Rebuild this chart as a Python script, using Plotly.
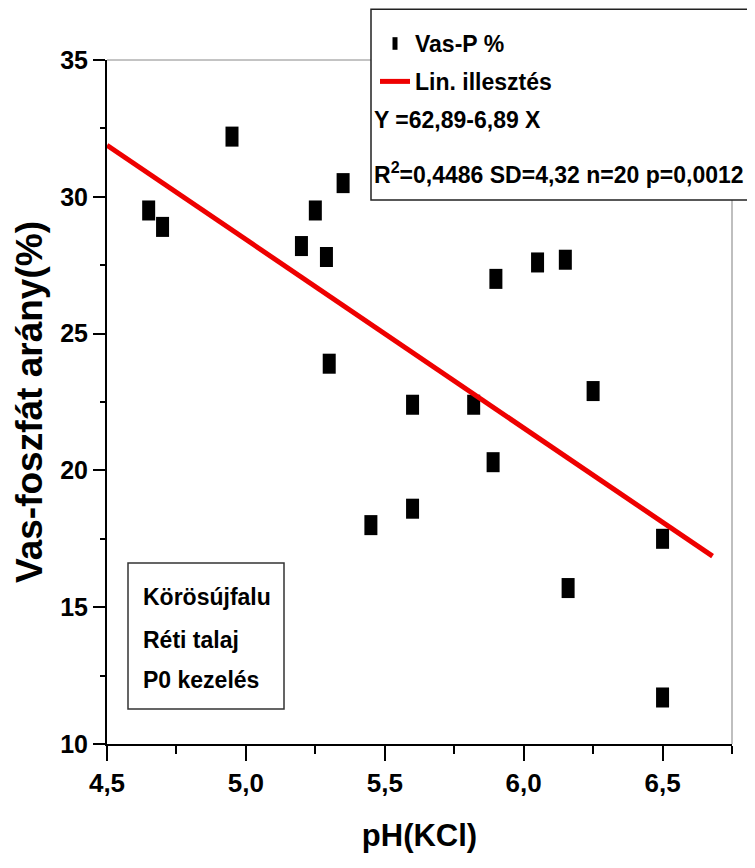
import plotly.graph_objects as go

# ---- data ----
ph_kcl = [4.65, 4.70, 4.95, 5.20, 5.25, 5.29, 5.30, 5.35, 5.45, 5.60,
          5.60, 5.82, 5.89, 5.90, 6.05, 6.15, 6.16, 6.25, 6.50, 6.50]
vas_p = [29.5, 28.9, 32.2, 28.2, 29.5, 27.8, 23.9, 30.5, 18.0, 22.4,
         18.6, 22.4, 20.3, 27.0, 27.6, 27.7, 15.7, 22.9, 17.5, 11.7]
fit_intercept = 62.89
fit_slope = -6.89
fit_x = [4.5, 6.68]
fit_y = [fit_intercept + fit_slope * x for x in fit_x]

x_ticks = [4.5, 5.0, 5.5, 6.0, 6.5]
y_ticks = [10, 15, 20, 25, 30, 35]

FONT = "Liberation Sans, Arial, sans-serif"

fig = go.Figure()

# data points (rectangular black markers)
fig.add_trace(go.Scatter(
    x=ph_kcl, y=vas_p, mode="markers", showlegend=False, name="Vas-P %",
    marker=dict(symbol="line-ns", size=14.3, color="black",
                line=dict(color="black", width=13)),
))
# fit line
fig.add_trace(go.Scatter(
    x=fit_x, y=fit_y, mode="lines", name="Lin. illesztés", showlegend=False,
    line=dict(color="#ee0000", width=5),
))
# legend entries
fig.add_trace(go.Scatter(
    x=[None], y=[None], mode="markers", name="Vas-P %", legendgroup="a",
    marker=dict(symbol="line-ns", size=9, color="black",
                line=dict(color="black", width=6)),
))
fig.add_trace(go.Scatter(
    x=[None], y=[None], mode="lines", name="Lin. illesztés", legendgroup="b",
    line=dict(color="#ee0000", width=5),
))

axis_common = dict(
    showline=True, linecolor="black", linewidth=2,
    ticks="outside", tickcolor="black", tickwidth=2,
    showgrid=False, zeroline=False, automargin=False,
)

fig.update_xaxes(
    range=[4.5, 6.75], tickvals=x_ticks, tickformat=".1f", ticklen=15,
    tickfont=dict(family=FONT, size=26, color="black", weight="bold"),
    minor=dict(dtick=0.25, ticklen=8, tickwidth=2, tickcolor="black", ticks="outside"),
    title=dict(text="pH(KCl)", font=dict(family=FONT, size=31, color="black", weight="bold"),
               standoff=27),
    **axis_common,
)
fig.update_yaxes(
    range=[10, 35], tickvals=y_ticks, ticklen=12,
    tickfont=dict(family=FONT, size=25, color="black", weight="bold"),
    minor=dict(dtick=2.5, ticklen=5, tickwidth=2, tickcolor="black", ticks="outside"),
    title=dict(text="Vas-foszfát arány(%)", font=dict(family=FONT, size=37, color="black", weight="bold"),
               standoff=6),
    **axis_common,
)

shapes = [
    # thin top and right frame lines
    dict(type="line", xref="paper", yref="paper", x0=0, x1=1, y0=1, y1=1,
         line=dict(color="#888888", width=1), layer="above"),
    dict(type="line", xref="paper", yref="paper", x0=1, x1=1, y0=0, y1=1,
         line=dict(color="#aaaaaa", width=1.5), layer="above"),
    # legend / statistics box
    dict(type="rect", xref="paper", yref="paper", x0=0.4224, x1=1.05, y0=0.7953, y1=1.0742,
         line=dict(color="#222222", width=1.5), fillcolor="white", layer="above"),
    # site box
    dict(type="rect", xref="paper", yref="paper", x0=0.0336, x1=0.2832, y0=0.0512, y1=0.2646,
         line=dict(color="#333333", width=1.5), fillcolor="white", layer="above"),
]

txt_font = dict(family=FONT, size=23, color="black", weight="bold")
annotations = [
    dict(text="Y =62,89-6,89 X", x=0.4245, y=0.9123, xref="paper", yref="paper",
         xanchor="left", yanchor="middle", showarrow=False, font=txt_font),
    dict(text="R<sup>2</sup>=0,4486 SD=4,32 n=20 p=0,0012", x=0.4245, y=0.8348,
         xref="paper", yref="paper", xanchor="left", yanchor="middle",
         showarrow=False, font=txt_font),
    dict(text="Körösújfalu", x=0.055, y=0.2149, xref="paper", yref="paper",
         xanchor="left", yanchor="middle", showarrow=False, font=txt_font),
    dict(text="Réti talaj", x=0.055, y=0.1520, xref="paper", yref="paper",
         xanchor="left", yanchor="middle", showarrow=False, font=txt_font),
    dict(text="P0 kezelés", x=0.055, y=0.0936, xref="paper", yref="paper",
         xanchor="left", yanchor="middle", showarrow=False, font=txt_font),
]

# page body adds an 8px margin, so the figure is 8px smaller than the window
fig.update_layout(
    width=747, height=860,
    margin=dict(l=99, r=23, t=52, b=124, autoexpand=False),
    paper_bgcolor="white", plot_bgcolor="white",
    separators=",.",
    shapes=shapes, annotations=annotations,
    legend=dict(x=0.4288, y=1.0555, xanchor="left", yanchor="top",
                bgcolor="rgba(0,0,0,0)", borderwidth=0,
                font=txt_font, tracegroupgap=5),
    showlegend=True,
)

fig.write_html("out.html")
